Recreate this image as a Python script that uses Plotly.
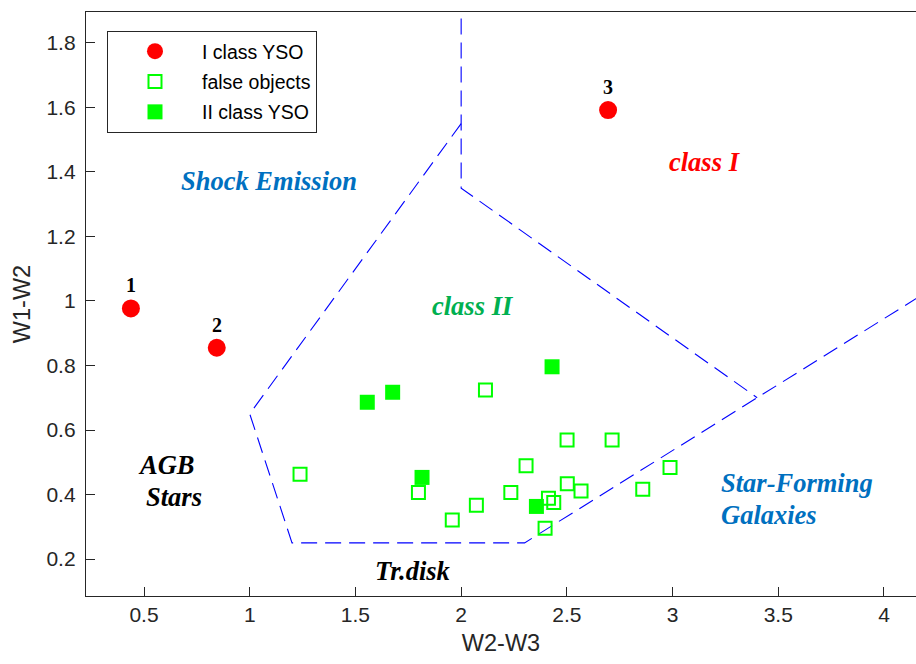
import plotly.graph_objects as go

# ---- data ----
class1_x = [0.438, 0.844, 2.695]
class1_y = [0.977, 0.855, 1.592]
class1_labels = ["1", "2", "3"]

false_x = [1.238, 1.798, 1.958, 2.072, 2.115, 2.235, 2.307, 2.397, 2.413, 2.438,
           2.501, 2.502, 2.567, 2.714, 2.859, 2.988]
false_y = [0.463, 0.406, 0.321, 0.367, 0.724, 0.406, 0.489, 0.295, 0.388, 0.375,
           0.569, 0.433, 0.411, 0.569, 0.416, 0.484]

class2_x = [1.556, 1.676, 1.815, 2.356, 2.430]
class2_y = [0.686, 0.717, 0.453, 0.363, 0.796]

# region boundaries
bound1_x = [2.0, 2.0, 3.4]
bound1_y = [1.95, 1.35, 0.70]
bound2_x = [2.0, 1.0, 1.2, 2.3, 3.4, 4.2]
bound2_y = [1.55, 0.65, 0.25, 0.25, 0.70, 1.027]

# region labels: (text, x, y, color, xanchor)
region_labels = [
    ("Shock Emission", 1.091, 1.372, "#0070C0", "center"),
    ("class I", 3.154, 1.431, "#FF0000", "center"),
    ("class II", 2.056, 0.984, "#00B050", "center"),
    ("AGB", 0.604, 0.491, "#000000", "center"),
    ("Stars", 0.644, 0.392, "#000000", "center"),
    ("Star-Forming", 3.218, 0.436, "#0070C0", "left"),
    ("Galaxies", 3.218, 0.338, "#0070C0", "left"),
    ("Tr.disk", 1.772, 0.163, "#000000", "center"),
]

x_ticks = [0.5, 1, 1.5, 2, 2.5, 3, 3.5, 4]
x_ticktext = ["0.5", "1", "1.5", "2", "2.5", "3", "3.5", "4"]
y_ticks = [0.2, 0.4, 0.6, 0.8, 1.0, 1.2, 1.4, 1.6, 1.8]
y_ticktext = ["0.2", "0.4", "0.6", "0.8", "1", "1.2", "1.4", "1.6", "1.8"]

AX = "#262626"
SANS = "Liberation Sans, Arial, sans-serif"
SERIF = "Liberation Serif, Times New Roman, serif"

fig = go.Figure()

dash = "16px,8px"
fig.add_trace(go.Scatter(x=bound1_x, y=bound1_y, mode="lines",
                         line=dict(color="#0000FF", width=1.1, dash=dash),
                         showlegend=False, hoverinfo="skip"))
fig.add_trace(go.Scatter(x=bound2_x, y=bound2_y, mode="lines",
                         line=dict(color="#0000FF", width=1.1, dash=dash),
                         showlegend=False, hoverinfo="skip"))

fig.add_trace(go.Scatter(x=class1_x, y=class1_y, mode="markers", name="I class YSO",
                         legendgroup="a",
                         marker=dict(symbol="circle", size=18, color="#FF0000",
                                     line=dict(width=0))))
fig.add_trace(go.Scatter(x=false_x, y=false_y, mode="markers", name="false objects",
                         legendgroup="b",
                         marker=dict(symbol="square-open", size=13, color="#00FF00",
                                     line=dict(width=2, color="#00FF00"))))
fig.add_trace(go.Scatter(x=class2_x, y=class2_y, mode="markers", name="II class YSO",
                         legendgroup="c",
                         marker=dict(symbol="square", size=15, color="#00FF00",
                                     line=dict(width=0))))

for lbl, px, py in zip(class1_labels, class1_x, class1_y):
    fig.add_annotation(x=px, y=py, text=lbl, showarrow=False, yshift=23,
                       xanchor="center", yanchor="middle",
                       font=dict(family=SERIF, size=20, color="#000000",
                                 weight="bold"))

for txt, lx, ly, col, anc in region_labels:
    fig.add_annotation(x=lx, y=ly, text=txt, showarrow=False, xanchor=anc,
                       yanchor="middle",
                       font=dict(family=SERIF, size=26.5, color=col,
                                 weight="bold", style="italic"))

fig.update_layout(
    width=916, height=664,
    margin=dict(l=86, r=0, t=12, b=68),
    paper_bgcolor="white", plot_bgcolor="white",
    font=dict(family=SANS, color=AX),
    legend=dict(x=0.0253, y=0.9675, xanchor="left", yanchor="top",
                bgcolor="white", bordercolor=AX, borderwidth=1,
                font=dict(family=SANS, size=19.5, color="#000000"),
                tracegroupgap=2, itemwidth=84),
    xaxis=dict(range=[0.2256, 4.1514], tickmode="array", tickvals=x_ticks,
               ticktext=x_ticktext, ticks="inside", ticklen=9, tickwidth=1.3,
               tickcolor=AX, showline=True, linecolor=AX, linewidth=1.3,
               mirror=True, showgrid=False, zeroline=False, automargin=False,
               tickfont=dict(size=21, color=AX),
               title=dict(text="W2-W3", font=dict(size=23.5, color=AX), standoff=9)),
    yaxis=dict(range=[0.0853, 1.896], tickmode="array", tickvals=y_ticks,
               ticktext=y_ticktext, ticks="inside", ticklen=9, tickwidth=1.3,
               tickcolor=AX, showline=True, linecolor=AX, linewidth=1.3,
               mirror=False, showgrid=False, zeroline=False, automargin=False,
               tickfont=dict(size=21, color=AX), ticklabelstandoff=5,
               title=dict(text="W1-W2", font=dict(size=23.5, color=AX), standoff=9)),
)

fig.write_html("out.html", config={"displayModeBar": False},
               post_script="document.body.style.margin='0';document.body.style.overflow='hidden';")
